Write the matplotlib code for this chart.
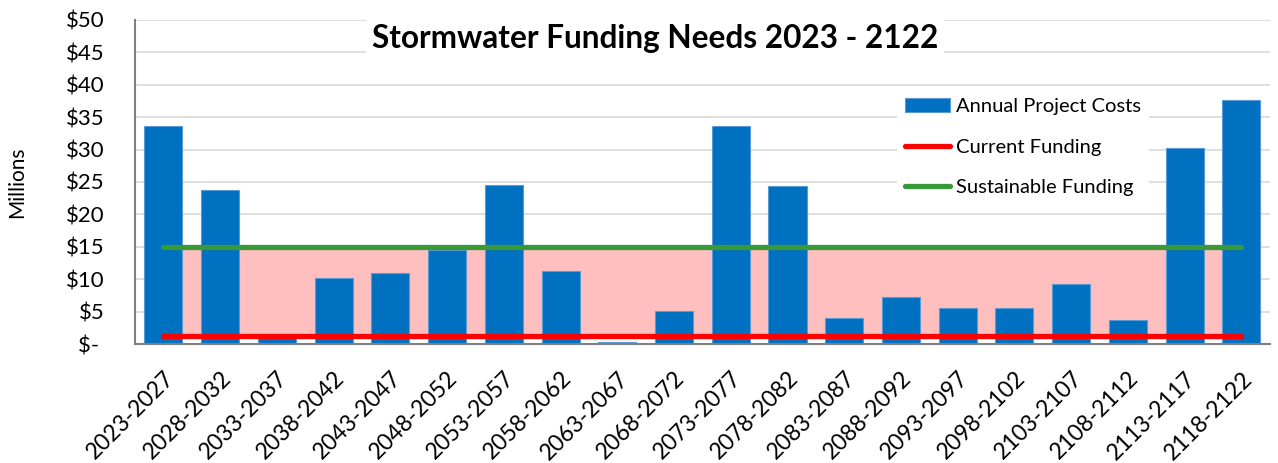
import numpy as np
import matplotlib
matplotlib.use('Agg')
import matplotlib.pyplot as plt

plt.rcParams['font.family'] = ['Lato', 'DejaVu Sans']

# 데이터
periods = ['2023-2027', '2028-2032', '2033-2037', '2038-2042', '2043-2047',
           '2048-2052', '2053-2057', '2058-2062', '2063-2067', '2068-2072',
           '2073-2077', '2078-2082', '2083-2087', '2088-2092', '2093-2097',
           '2098-2102', '2103-2107', '2108-2112', '2113-2117', '2118-2122']
annual_costs = [33.6, 23.8, 1.0, 10.2, 11.0, 14.5, 24.6, 11.3, 0.3, 5.1,
                33.6, 24.4, 4.0, 7.3, 5.5, 5.5, 9.3, 3.7, 30.3, 37.6]
current_funding = [1.3] * len(periods)
sustainable_funding = [15.0] * len(periods)
y_ticks = [0, 5, 10, 15, 20, 25, 30, 35, 40, 45, 50]
y_labels = ['$- ', '$5', '$10', '$15', '$20', '$25', '$30', '$35', '$40', '$45', '$50']

fig = plt.figure(figsize=(12.78, 4.63), dpi=100)
ax = fig.add_axes([0.1056, 0.257, 0.888, 0.700])

x = np.arange(len(periods))

# 분홍 영역 (현재 ~ 지속가능 자금 사이)
ax.fill_between(x, current_funding, sustainable_funding, color='#FFBFBF',
                linewidth=0, zorder=1)
bars = ax.bar(x, annual_costs, width=0.67, color='#0070C0', edgecolor='#5B9BD5',
              linewidth=0.8, zorder=2, label='Annual Project Costs')
line_cur, = ax.plot(x, current_funding, color='#FF0000', linewidth=3.8,
                    solid_capstyle='round', zorder=3, label='Current Funding')
line_sus, = ax.plot(x, sustainable_funding, color='#379A37', linewidth=3.8,
                    solid_capstyle='round', zorder=3, label='Sustainable Funding')

ax.set_xlim(-0.5, len(periods) - 0.5)
ax.set_ylim(0, 50)
ax.set_yticks(y_ticks)
ax.set_yticklabels(y_labels, fontsize=16)
ax.set_xticks(x)
ax.set_xticklabels(periods, fontsize=16.5, rotation=45, ha='right',
                   rotation_mode='anchor')
ax.tick_params(axis='y', length=0, pad=22)
ax.tick_params(axis='x', length=0, pad=17)

ax.grid(axis='y', color='#D9D9D9', linewidth=1.2, zorder=0)
ax.set_axisbelow(True)
for side in ['top', 'right']:
    ax.spines[side].set_visible(False)
ax.spines['left'].set_color('#7F7F7F')
ax.spines['left'].set_linewidth(1.5)
ax.spines['bottom'].set_color('#7F7F7F')
ax.spines['bottom'].set_linewidth(1.5)

ax.set_ylabel('Millions', fontsize=15)
ax.yaxis.set_label_coords(-0.095, 0.5)

ax.text(0.458, 0.944, 'Stormwater Funding Needs 2023 - 2122', transform=ax.transAxes,
        ha='center', va='center', fontsize=22.7, fontweight='bold', zorder=5,
        bbox=dict(facecolor='white', edgecolor='none', pad=4))

leg = ax.legend([bars, line_cur, line_sus],
                ['Annual Project Costs', 'Current Funding', 'Sustainable Funding'],
                loc='upper left', bbox_to_anchor=(0.663, 0.815), fontsize=14.5,
                frameon=True, fancybox=False, edgecolor='none', framealpha=1,
                labelspacing=1.17, handlelength=2.2, handletextpad=0.3,
                borderpad=0.4)
leg.set_zorder(6)

fig.savefig('out.png', dpi=100)
